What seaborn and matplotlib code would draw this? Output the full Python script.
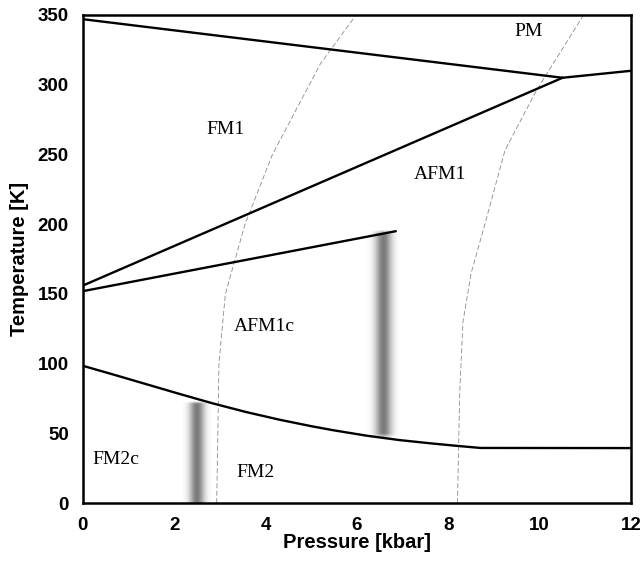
import numpy as np
import matplotlib
matplotlib.use('Agg')
import matplotlib.pyplot as plt
import seaborn as sns

# phase boundaries (pressure kbar, temperature K)
top_p = [0.0, 10.5]
top_t = [347, 305]
right_p = [10.5, 12.0]
right_t = [305, 310]
afm_upper_p = [0.0, 10.5]
afm_upper_t = [156, 305]
afm_lower_p = [0.0, 6.85]
afm_lower_t = [152, 195]
fm2_p = [0.0, 0.66, 1.39, 2.12, 2.85, 3.58, 4.31, 5.0, 5.48, 6.21, 6.94, 7.67, 8.22, 8.7, 12.0]
fm2_t = [98.5, 92.3, 85.3, 78.3, 71.5, 65.3, 59.8, 55.2, 52.3, 48.4, 45.2, 42.7, 41.0, 39.6, 39.5]

# thin dashed guide curves
dash1_p = [2.93, 2.98, 3.12, 3.55, 4.15, 5.2, 5.98]
dash1_t = [0, 100, 150, 200, 250, 315, 350]
dash2_p = [8.2, 8.25, 8.32, 8.5, 8.8, 9.24, 9.93, 10.96]
dash2_t = [0, 80, 130, 165, 200, 253, 296, 350]

# grey hysteresis bands: centre pressure, half width, T range
band_center = [2.48, 6.57]
band_halfwidth = [0.32, 0.36]
band_tmin = [0, 46]
band_tmax = [73, 196]

labels = ["PM", "FM1", "AFM1", "AFM1c", "FM2c", "FM2"]
label_p = [9.75, 3.13, 7.82, 3.98, 0.72, 3.78]
label_t = [338, 268, 236, 127, 31, 22]

sns.set_style("white")
plt.rcParams['text.color'] = 'black'
plt.rcParams['axes.labelcolor'] = 'black'
plt.rcParams['xtick.color'] = 'black'
plt.rcParams['ytick.color'] = 'black'

fig = plt.figure(figsize=(6.42, 5.66), dpi=100)
ax = fig.add_axes([0.129, 0.111, 0.854, 0.8625])

# bands as soft gradient images
for c, hw, t0, t1 in zip(band_center, band_halfwidth, band_tmin, band_tmax):
    xs = np.linspace(-1, 1, 80)
    ys = np.linspace(0, 1, 200)
    prof = np.exp(-(xs / 0.5) ** 2)
    vert = np.clip(np.minimum(ys, 1 - ys) / 0.025, 0, 1)
    if t0 == 0:
        vert = np.clip((1 - ys) / 0.025, 0, 1)
    img = np.outer(vert, prof)
    rgba = np.zeros((len(ys), len(xs), 4))
    rgba[..., :3] = 0.35
    rgba[..., 3] = img * 0.8
    ax.imshow(rgba, extent=[c - hw, c + hw, t0, t1], origin='lower',
              aspect='auto', interpolation='bilinear', zorder=1)

for p, t in [(dash1_p, dash1_t), (dash2_p, dash2_t)]:
    sns.lineplot(x=p, y=t, sort=False, ax=ax, color='#8a8a8a',
                 linewidth=0.6, linestyle=(0, (6, 3)), zorder=2)

for p, t in [(top_p, top_t), (right_p, right_t), (afm_upper_p, afm_upper_t),
             (afm_lower_p, afm_lower_t), (fm2_p, fm2_t)]:
    sns.lineplot(x=p, y=t, sort=False, ax=ax, color='black',
                 linewidth=1.7, zorder=3)

for s, p, t in zip(labels, label_p, label_t):
    ax.text(p, t, s, family='Liberation Serif', fontsize=14,
            ha='center', va='center', color='black', zorder=4)

ax.set_xlim(0, 12)
ax.set_ylim(0, 350)
ax.set_xticks(range(0, 13, 2))
ax.set_yticks(range(0, 351, 50))
ax.tick_params(length=0, pad=10)
for lab in ax.get_xticklabels() + ax.get_yticklabels():
    lab.set_fontweight('bold')
    lab.set_fontsize(13.5)
    lab.set_family('Liberation Sans')
for sp in ax.spines.values():
    sp.set_linewidth(1.8)
    sp.set_color('black')

ax.set_xlabel("Pressure [kbar]", fontsize=14.5, fontweight='bold',
              family='Liberation Sans', labelpad=-1)
ax.set_ylabel("Temperature [K]", fontsize=14.5, fontweight='bold',
              family='Liberation Sans', labelpad=6)

fig.savefig('out.png', dpi=100)
